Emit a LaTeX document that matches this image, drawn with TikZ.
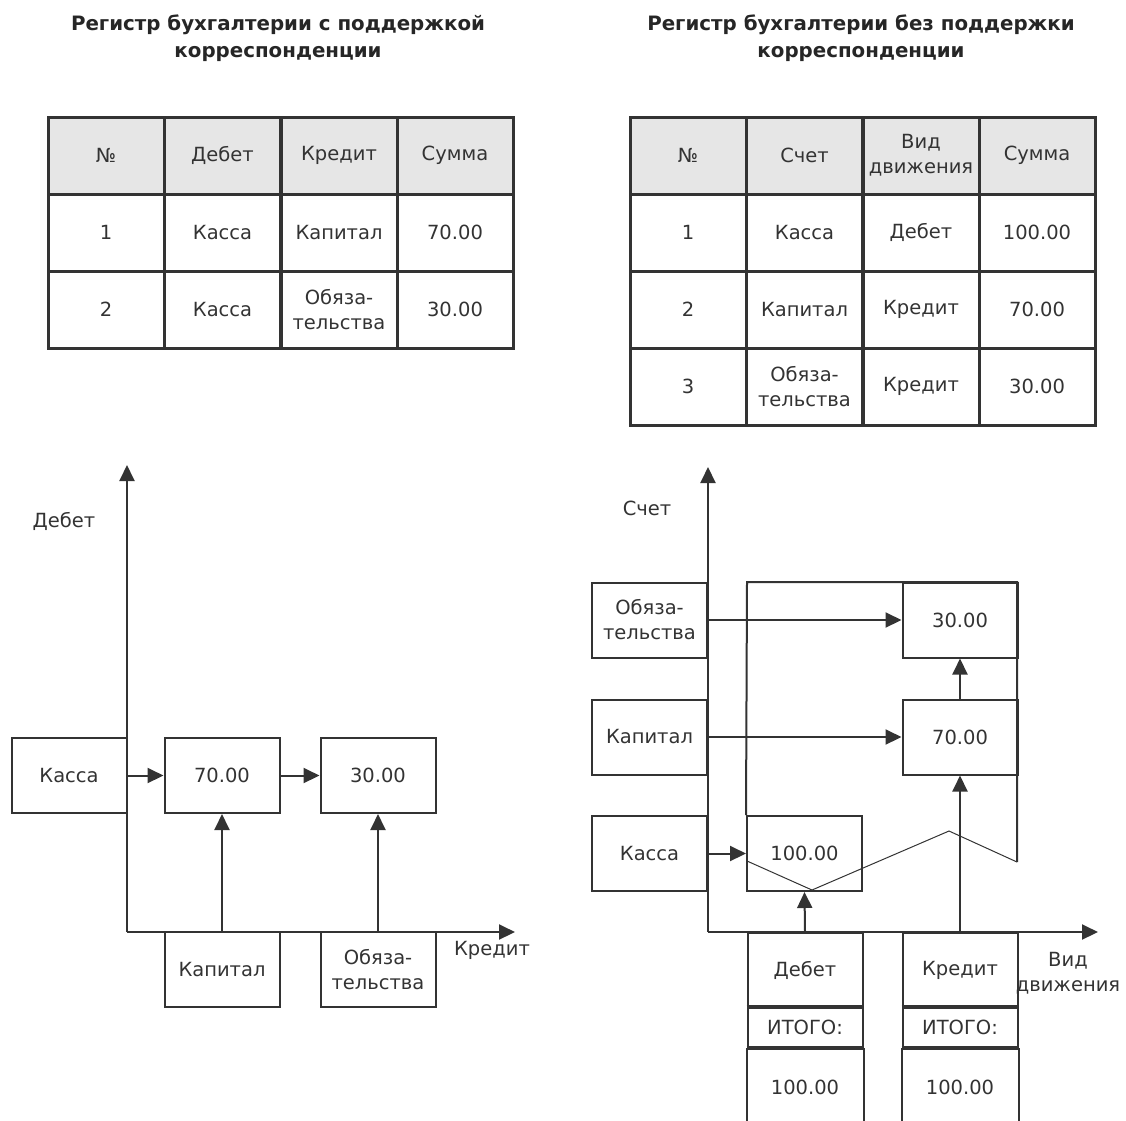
\documentclass[tikz,border=0pt]{standalone}
\usepackage{fontspec}
\setmainfont{DejaVu Sans}
\usetikzlibrary{arrows.meta}
\definecolor{ink}{HTML}{333333}
\definecolor{hdrgray}{HTML}{E6E6E6}
\tikzset{
    cell/.style={draw=ink, line width=3pt, minimum width=116pt, minimum height=77pt, inner sep=0pt, align=center, text=ink},
    head/.style={cell, fill=hdrgray},
    box/.style={draw=ink, line width=2pt, minimum width=115pt, minimum height=75pt, inner sep=0pt, align=center, text=ink},
    flow/.style={draw=ink, line width=2pt, -{Triangle[length=16pt,width=15pt]}},
    ttl/.style={font=\fontsize{19.8}{27}\selectfont\bfseries, align=center, text=black!85},
    lbl/.style={align=center, text=ink},
}
\begin{document}
\begin{tikzpicture}[x=1pt, y=-1pt, font=\fontsize{19.5}{25}\selectfont]
    \useasboundingbox (0,0) rectangle (1126,1120);

    \node [ttl] (tleft) at (278,38.5) {Регистр бухгалтерии с поддержкой\\корреспонденции};
    \node [ttl] (tright) at (861,38.5) {Регистр бухгалтерии без поддержки\\корреспонденции};

    \node [head] (lh1) at (106,155.5) {№};
    \node [head] (lh2) at (222.5,155.5) {Дебет};
    \node [head] (lh3) at (339,155.5) {Кредит};
    \node [head] (lh4) at (455,155.5) {Сумма};
    \node [cell] (la1) at (106,232.5) {1};
    \node [cell] (la2) at (222.5,232.5) {Касса};
    \node [cell] (la3) at (339,232.5) {Капитал};
    \node [cell] (la4) at (455,232.5) {70.00};
    \node [cell] (lb1) at (106,309.5) {2};
    \node [cell] (lb2) at (222.5,309.5) {Касса};
    \node [cell] (lb3) at (339,309.5) {Обяза-\\тельства};
    \node [cell] (lb4) at (455,309.5) {30.00};

    \node [head] (rh1) at (688,155.5) {№};
    \node [head] (rh2) at (804.5,155.5) {Счет};
    \node [head] (rh3) at (921,155.5) {Вид\\движения};
    \node [head] (rh4) at (1037,155.5) {Сумма};
    \node [cell] (ra1) at (688,232.5) {1};
    \node [cell] (ra2) at (804.5,232.5) {Касса};
    \node [cell] (ra3) at (921,232.5) {Дебет};
    \node [cell] (ra4) at (1037,232.5) {100.00};
    \node [cell] (rb1) at (688,309.5) {2};
    \node [cell] (rb2) at (804.5,309.5) {Капитал};
    \node [cell] (rb3) at (921,309.5) {Кредит};
    \node [cell] (rb4) at (1037,309.5) {70.00};
    \node [cell] (rc1) at (688,386.5) {3};
    \node [cell] (rc2) at (804.5,386.5) {Обяза-\\тельства};
    \node [cell] (rc3) at (921,386.5) {Кредит};
    \node [cell] (rc4) at (1037,386.5) {30.00};

    \coordinate (lo) at (127,932);
    \coordinate (ly) at (127,465);
    \coordinate (lx) at (515,932);
    \node [lbl] (ldebet) at (64,521) {Дебет};
    \node [lbl] (lkredit) at (492,950) {Кредит};
    \node [box] (lkassa) at (69,775.5) {Касса};
    \node [box] (l70) at (222,775.5) {70.00};
    \node [box] (l30) at (378,775.5) {30.00};
    \node [box] (lkap) at (222,969.5) {Капитал};
    \node [box] (lobyaz) at (378,969.5) {Обяза-\\тельства};
    \draw [flow] (lo) -- (ly);
    \draw [flow] (lo) -- (lx);
    \draw [flow] (lkassa.east) -- (l70.west);
    \draw [flow] (l70.east) -- (l30.west);
    \draw [flow] (lkap.north) -- (l70.south);
    \draw [flow] (lobyaz.north) -- (l30.south);

    \coordinate (ro) at (708,932);
    \coordinate (ry) at (708,467);
    \coordinate (rx) at (1098,932);
    \coordinate (ot1) at (747,582);
    \coordinate (ot2) at (1017,582);
    \coordinate (z1) at (1017,862);
    \coordinate (z2) at (949,831);
    \coordinate (z3) at (812,890);
    \coordinate (z4) at (747,861);
    \node [lbl] (rschet) at (647,508) {Счет};
    \node [lbl] (rvid) at (1068,973) {Вид\\движения};
    \node [box] (robyaz) at (649.5,620) {Обяза-\\тельства};
    \node [box] (rkap) at (649.5,737) {Капитал};
    \node [box] (rkassa) at (649.5,853.5) {Касса};
    \node [box] (r30) at (960,620) {30.00};
    \node [box] (r70) at (960,737) {70.00};
    \node [box] (r100) at (804.5,853.5) {100.00};
    \draw [draw=ink, line width=2pt] (r100.north west) -- (ot1) -- (ot2) -- (z1);
    \draw [draw=ink, line width=1pt] (z1) -- (z2) -- (z3) -- (z4);

    \node [box] (rdeb) at (805,970) {Дебет};
    \node [box, minimum height=39pt] (rdebit) at (805,1027.5) {ИТОГО:};
    \node [lbl] (rdebsum) at (805,1087) {100.00};
    \node [box] (rkred) at (960,970) {Кредит};
    \node [box, minimum height=39pt] (rkredit) at (960,1027.5) {ИТОГО:};
    \node [lbl] (rkredsum) at (960,1087) {100.00};
    \draw [draw=ink, line width=2pt] (rdebit.south west) -- ++(0,73);
    \draw [draw=ink, line width=2pt] (rdebit.south east) -- ++(0,73);
    \draw [draw=ink, line width=2pt] (rkredit.south west) -- ++(0,73);
    \draw [draw=ink, line width=2pt] (rkredit.south east) -- ++(0,73);
    \draw [draw=ink, line width=3.5pt] (rdebit.north west) -- (rdebit.north east);
    \draw [draw=ink, line width=3.5pt] (rdebit.south west) -- (rdebit.south east);
    \draw [draw=ink, line width=3.5pt] (rkredit.north west) -- (rkredit.north east);
    \draw [draw=ink, line width=3.5pt] (rkredit.south west) -- (rkredit.south east);

    \draw [flow] (ro) -- (ry);
    \draw [flow] (ro) -- (rx);
    \draw [flow] (robyaz.east) -- (r30.west);
    \draw [flow] (rkap.east) -- (r70.west);
    \draw [flow] (rkassa.east) -- (r100.west);
    \draw [flow] (r70.north) -- (r30.south);
    \draw [flow] (rkred.north) -- (r70.south);
    \draw [flow] (rdeb.north) -- (r100.south);
\end{tikzpicture}
\end{document}
